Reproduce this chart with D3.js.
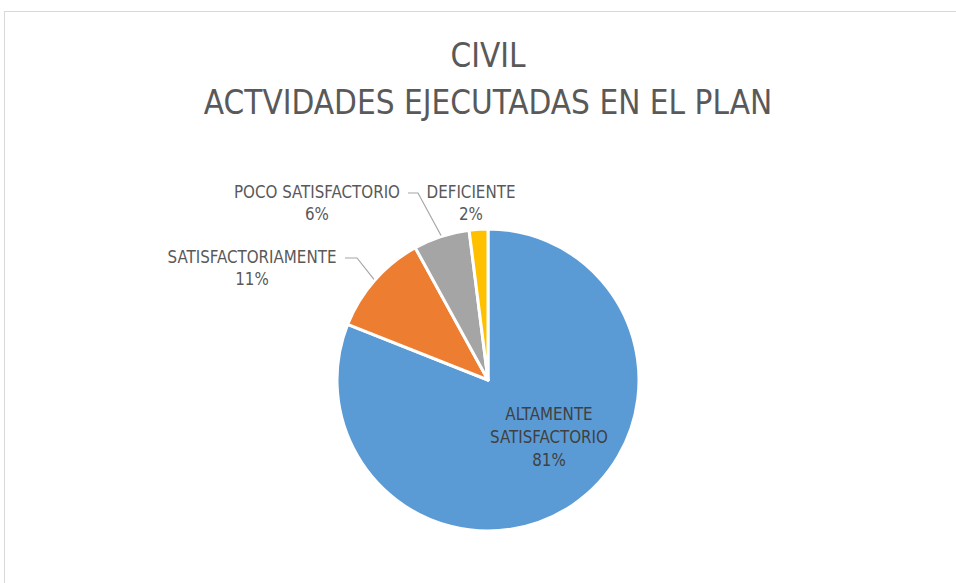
<!DOCTYPE html>
<html>
<head>
<meta charset="utf-8">
<script src="https://cdn.jsdelivr.net/npm/d3@7"></script>
<style>
  body { margin: 0; background: #fff; }
  svg { display: block; font-family: 'Liberation Sans Narrow', 'DejaVu Sans Condensed', 'Liberation Sans', sans-serif; }
</style>
</head>
<body>
<svg width="956" height="583"></svg>
<script>
    // data
    const categories = ['ALTAMENTE SATISFACTORIO', 'SATISFACTORIAMENTE', 'POCO SATISFACTORIO', 'DEFICIENTE'];
    const values = [81, 11, 6, 2];
    const colors = ['#5B9BD5', '#ED7D31', '#A5A5A5', '#FFC000'];
    const titleLines = ['CIVIL', 'ACTVIDADES EJECUTADAS EN EL PLAN'];

    // label layout (Excel "best fit" placement)
    const labelLines = [['ALTAMENTE', 'SATISFACTORIO'], ['SATISFACTORIAMENTE'], ['POCO SATISFACTORIO'], ['DEFICIENTE']];
    const labelAnchor = [[549, 420], [252, 263], [317, 198], [471, 198]];
    const leaderBend = [null, [357, 258], [418, 193], null];
    const leaderEnd = [null, [345, 258], [408, 193], null];

    const svg = d3.select('svg');
    const width = 956, height = 583;

    svg.append('rect')
        .attr('x', 4.5).attr('y', 11.5)
        .attr('width', width + 10).attr('height', height + 10)
        .attr('fill', '#fff')
        .attr('stroke', '#D9D9D9');

    svg.append('g').selectAll('text')
        .data(titleLines)
        .enter().append('text')
        .attr('x', 488)
        .attr('y', (d, i) => 67 + i * 46.5)
        .attr('text-anchor', 'middle')
        .attr('fill', '#595959')
        .attr('font-size', 33)
        .text(d => d);

    const cx = 488, cy = 380, radius = 151;

    const pie = d3.pie().sort(null).value(d => d);
    const arcs = pie(values);
    const arcGen = d3.arc().innerRadius(0).outerRadius(radius);

    const g = svg.append('g').attr('transform', `translate(${cx},${cy})`);

    g.selectAll('path')
        .data(arcs)
        .enter().append('path')
        .attr('d', arcGen)
        .attr('fill', (d, i) => colors[i])
        .attr('stroke', '#fff')
        .attr('stroke-width', 3)
        .attr('stroke-linejoin', 'round');

    // leader lines
    const total = d3.sum(values);
    arcs.forEach((a, i) => {
        if (!leaderBend[i]) return;
        const mid = (a.startAngle + a.endAngle) / 2;
        const r0 = radius + 1;
        const p0 = [cx + r0 * Math.sin(mid), cy - r0 * Math.cos(mid)];
        svg.append('polyline')
            .attr('points', [p0, leaderBend[i], leaderEnd[i]].map(p => p.join(',')).join(' '))
            .attr('fill', 'none')
            .attr('stroke', '#A6A6A6')
            .attr('stroke-width', 1.2);
    });

    // data labels
    const fmt = d3.format('.0%');
    const labels = svg.append('g');
    categories.forEach((c, i) => {
        const lines = labelLines[i].concat([fmt(values[i] / total)]);
        const t = labels.append('text')
            .attr('text-anchor', 'middle')
            .attr('fill', i === 0 ? '#404040' : '#595959')
            .attr('font-size', 16.8);
        lines.forEach((l, j) => {
            t.append('tspan')
                .attr('x', labelAnchor[i][0])
                .attr('y', labelAnchor[i][1] + j * (i === 0 ? 23 : 22))
                .text(l);
        });
    });
</script>
</body>
</html>
